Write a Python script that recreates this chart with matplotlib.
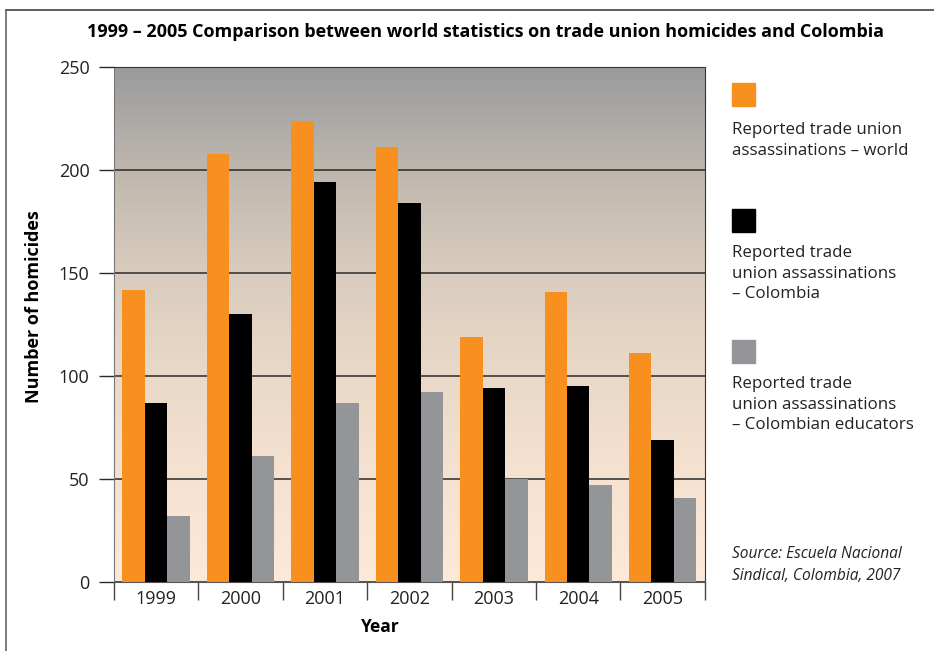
import matplotlib.pyplot as plt
import matplotlib.patches as mpatches
from matplotlib.lines import Line2D
from matplotlib.colors import LinearSegmentedColormap
import numpy as np

years = ["1999", "2000", "2001", "2002", "2003", "2004", "2005"]
world = [142, 208, 224, 211, 119, 141, 111]
colombia = [87, 130, 194, 184, 94, 95, 69]
educators = [32, 61, 87, 92, 50, 47, 41]

series_labels = ["Reported trade union\nassassinations \u2013 world",
                 "Reported trade\nunion assassinations\n\u2013 Colombia",
                 "Reported trade\nunion assassinations\n\u2013 Colombian educators"]
colors = ["#f7901e", "#000000", "#939598"]

plt.rcParams['font.family'] = ['Open Sans', 'DejaVu Sans']

fig = plt.figure(figsize=(9.34, 6.51), dpi=100)
ax = fig.add_axes([0.122, 0.106, 0.6327, 0.791])

# gradient background
grad = LinearSegmentedColormap.from_list("bg", [
    (0.0, "#fde9d7"), (0.2, "#f6e2d0"), (0.4, "#ead9c8"),
    (0.6, "#d9ccbe"), (0.8, "#bfb7ae"), (1.0, "#9a9b9d")])
ax.imshow(np.linspace(0, 1, 256).reshape(-1, 1), cmap=grad, origin="lower",
          extent=[0, 1, 0, 1], transform=ax.transAxes, aspect="auto", zorder=0)

x = np.arange(len(years))
w = 0.266
ax.bar(x - w, world, w, color=colors[0], zorder=3)
ax.bar(x, colombia, w, color=colors[1], zorder=3)
ax.bar(x + w, educators, w, color=colors[2], zorder=3)

ax.set_xlim(-0.5, 6.5)
ax.set_ylim(0, 250)
ax.set_yticks(range(0, 251, 50))
ax.yaxis.grid(True, color="#2a2a2a", linewidth=1.1, zorder=1)
ax.set_axisbelow(True)
ax.tick_params(axis="y", length=10.5, width=1, color="#2a2a2a", labelsize=13,
               labelcolor="#222222", pad=7)

ax.set_xticks(x)
ax.set_xticklabels(years)
ax.set_xticks(np.arange(-0.5, 7, 1), minor=True)
ax.tick_params(axis="x", which="major", length=0, labelsize=13,
               labelcolor="#222222", pad=6)
ax.tick_params(axis="x", which="minor", length=13, width=1, color="#444444")

ax.spines["left"].set_color("#777777")
ax.spines["right"].set_color("#333333")
ax.spines["top"].set_color("#333333")
ax.spines["bottom"].set_color("#555555")

ax.set_ylabel("Number of homicides", fontsize=13, fontweight="bold")
ax.yaxis.set_label_coords(-0.12, 0.534)
ax.set_xlabel("Year", fontsize=12.5, fontweight="bold")
ax.xaxis.set_label_coords(0.45, -0.069)

fig.text(485 / 934, 1 - 32 / 651, "1999 \u2013 2005 Comparison between world statistics on trade union homicides and Colombia",
         ha="center", va="center", fontsize=13, fontweight="bold")

# legend drawn by hand
sq_y = [83, 209, 340]
txt_off = [39, 36, 36]
for c, lab, y, off in zip(colors, series_labels, sq_y, txt_off):
    fig.patches.append(mpatches.Rectangle((732 / 934, 1 - (y + 23) / 651), 23 / 934, 23 / 651,
                                          transform=fig.transFigure, color=c))
    fig.text(732 / 934, 1 - (y + off) / 651, lab, ha="left", va="top", fontsize=12.2,
             color="#222222", linespacing=1.38)

fig.text(732 / 934, 1 - 546 / 651, "Source: Escuela Nacional\nSindical, Colombia, 2007",
         ha="left", va="top", fontsize=11.2, style="italic", color="#222222", linespacing=1.5)

# outer frame lines
fig.add_artist(Line2D([6 / 934, 1], [1 - 10 / 651] * 2, color="#444444", lw=1.2,
                      transform=fig.transFigure))
fig.add_artist(Line2D([6 / 934] * 2, [0, 1 - 10 / 651], color="#666666", lw=1.2,
                      transform=fig.transFigure))

fig.savefig("out.png", dpi=100)
